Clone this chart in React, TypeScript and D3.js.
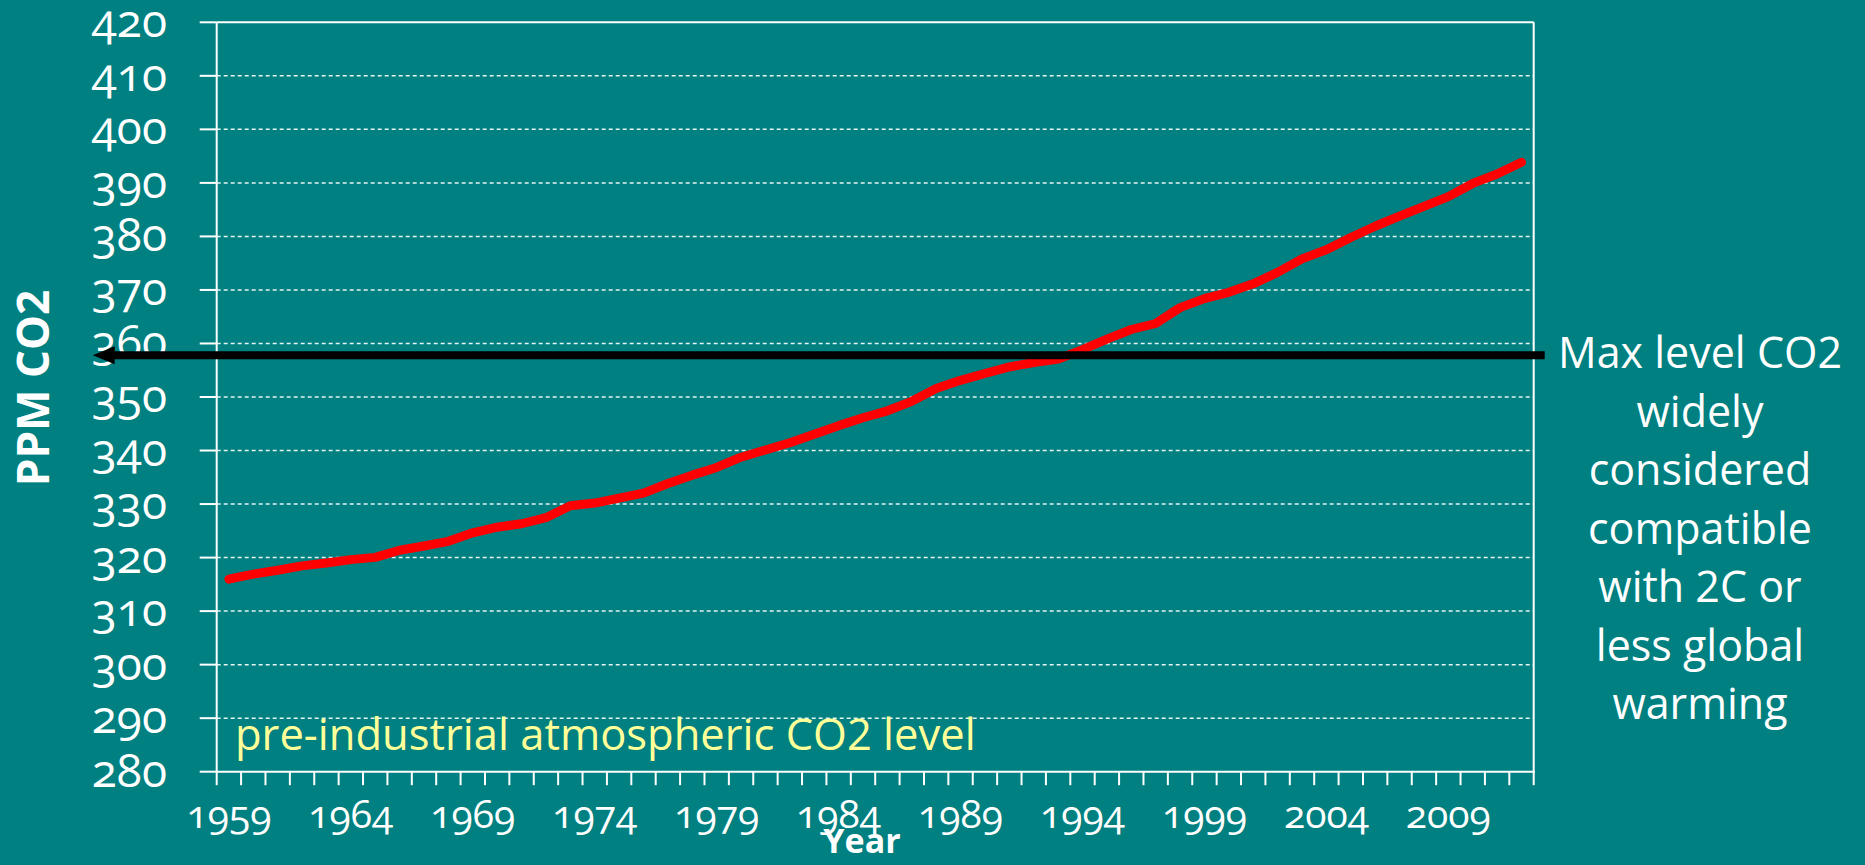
import React from "react";
import * as d3 from "d3";

const years: number[] = [
  1959, 1960, 1961, 1962, 1963, 1964, 1965, 1966, 1967, 1968, 1969, 1970, 1971, 1972, 1973, 1974, 1975, 1976,
  1977, 1978, 1979, 1980, 1981, 1982, 1983, 1984, 1985, 1986, 1987, 1988, 1989, 1990, 1991, 1992, 1993, 1994,
  1995, 1996, 1997, 1998, 1999, 2000, 2001, 2002, 2003, 2004, 2005, 2006, 2007, 2008, 2009, 2010, 2011, 2012,
];
const co2Ppm: number[] = [
  315.97, 316.91, 317.64, 318.45, 318.99, 319.62, 320.04, 321.38, 322.16, 323.04, 324.62, 325.68, 326.32, 327.45,
  329.68, 330.18, 331.11, 332.04, 333.83, 335.4, 336.84, 338.75, 340.11, 341.45, 343.05, 344.65, 346.12, 347.42,
  349.19, 351.57, 353.12, 354.39, 355.61, 356.45, 357.1, 358.83, 360.82, 362.61, 363.73, 366.7, 368.38, 369.55,
  371.14, 373.28, 375.8, 377.52, 379.8, 381.9, 383.79, 385.6, 387.43, 389.9, 391.65, 393.85,
];
const yTicks: number[] = [280, 290, 300, 310, 320, 330, 340, 350, 360, 370, 380, 390, 400, 410, 420];
const xLabelYears: number[] = [1959, 1964, 1969, 1974, 1979, 1984, 1989, 1994, 1999, 2004, 2009];
const maxLevelPpm = 357.8;
const noteLines: string[] = [
  "Max level CO2",
  "widely",
  "considered",
  "compatible",
  "with 2C or",
  "less global",
  "warming",
];
const preIndustrialLabel = "pre-industrial atmospheric CO2 level";

const W = 1865;
const H = 865;
const BG = "#008080";
const FONT = "'Open Sans', 'Noto Sans', sans-serif";

export default function App() {
  const left = 216.7;
  const right = 1533.7;
  const top = 22.3;
  const bottom = 771.7;

  const x = d3.scaleBand<number>().domain(years).range([left, right]).padding(0);
  const y = d3.scaleLinear().domain([280, 420]).range([bottom, top]);
  const bw = x.bandwidth();

  const pts: [number, number][] = years.map((yr, i) => [x(yr)! + bw / 2, y(co2Ppm[i])]);
  const lineGen = d3.line<[number, number]>().x((d) => d[0]).y((d) => d[1]);

  const tickXs = years.map((yr) => x(yr)!).concat([right]);
  const arrowY = y(maxLevelPpm);
  const tipX = left - 124;
  const arrowRight = right + 11;

  const numStyle: React.CSSProperties = { fontVariantNumeric: "oldstyle-nums" };

  return (
    <div style={{ position: "fixed", left: 0, top: 0, width: W, height: H, background: BG }}>
      <svg width={W} height={H} style={{ display: "block" }} fontFamily={FONT}>
        <rect x={0} y={0} width={W} height={H} fill={BG} />
        {/* gridlines */}
        {yTicks
          .filter((t) => t > 280 && t < 420)
          .map((t) => (
            <line
              key={"g" + t}
              x1={left}
              x2={right}
              y1={y(t)}
              y2={y(t)}
              stroke="#e6f4f4"
              strokeWidth={1.5}
              strokeDasharray="4,3"
            />
          ))}
        {/* plot border */}
        <line x1={left} x2={right} y1={top} y2={top} stroke="#fff" strokeWidth={2} />
        <line x1={right} x2={right} y1={top} y2={bottom} stroke="#fff" strokeWidth={2} />
        <line x1={left} x2={left} y1={top} y2={bottom} stroke="#fff" strokeWidth={2} />
        <line x1={left - 1} x2={right + 1} y1={bottom} y2={bottom} stroke="#fff" strokeWidth={2} />
        {/* y ticks */}
        {yTicks.map((t) => (
          <g key={"y" + t}>
            <line x1={left - 17} x2={left} y1={y(t)} y2={y(t)} stroke="#fff" strokeWidth={2} />
            <text
              x={167}
              y={y(t) + 15}
              textAnchor="end"
              fill="#fff"
              fontSize={46}
              style={numStyle}
            >
              {t}
            </text>
          </g>
        ))}
        {/* x ticks */}
        {tickXs.map((tx, i) => (
          <line key={"xt" + i} x1={tx} x2={tx} y1={bottom} y2={bottom + 13.5} stroke="#fff" strokeWidth={2} />
        ))}
        {xLabelYears.map((yr) => (
          <text
            key={"xl" + yr}
            x={x(yr)! + bw / 2}
            y={828}
            textAnchor="middle"
            fill="#fff"
            fontSize={39}
            style={numStyle}
          >
            {yr}
          </text>
        ))}
        {/* axis titles */}
        <text
          transform={`translate(49, 388) rotate(-90)`}
          textAnchor="middle"
          fill="#fff"
          fontSize={44}
          fontWeight="bold"
        >
          PPM CO2
        </text>
        <text x={862} y={853} textAnchor="middle" fill="#fff" fontSize={34} fontWeight="bold">
          Year
        </text>
        {/* pre-industrial label */}
        <text x={235} y={750} fill="#FFFF99" fontSize={43.5}>
          {preIndustrialLabel}
        </text>
        {/* CO2 line */}
        <path
          d={lineGen(pts) || ""}
          fill="none"
          stroke="#FF0000"
          strokeWidth={9}
          strokeLinejoin="round"
          strokeLinecap="round"
        />
        {/* arrow */}
        <line x1={arrowRight} x2={tipX + 18} y1={arrowY} y2={arrowY} stroke="#000" strokeWidth={8} />
        <path
          d={`M${tipX},${arrowY} L${tipX + 22},${arrowY - 9} L${tipX + 22},${arrowY + 9} Z`}
          fill="#000"
        />
        {/* note */}
        <text x={1700} y={368} textAnchor="middle" fill="#fff" fontSize={43}>
          {noteLines.map((ln, i) => (
            <tspan key={i} x={1700} y={368 + i * 58.5}>
              {ln}
            </tspan>
          ))}
        </text>
      </svg>
    </div>
  );
}
